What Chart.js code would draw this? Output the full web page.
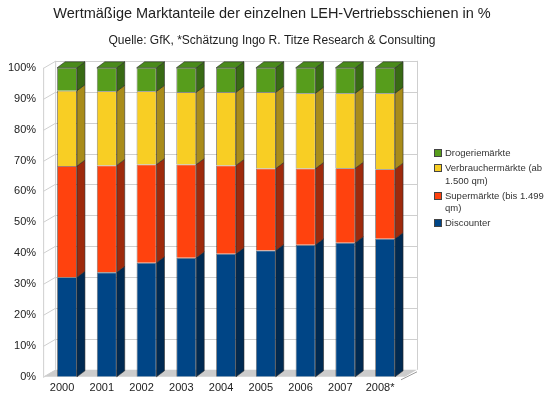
<!DOCTYPE html>
<html>
<head>
<meta charset="utf-8">
<script src="https://cdn.jsdelivr.net/npm/chart.js@4.4.0/dist/chart.umd.min.js"></script>
<style>
  body { margin: 0; background: #fff; }
  #wrap { position: relative; width: 547px; height: 400px; }
  #legend { position: absolute; left: 434px; top: 147px; font: 9.5px "Liberation Sans", Arial, sans-serif; color: #333; line-height: 12.5px; }
  #legend div { position: relative; padding-left: 11px; margin-bottom: 2.5px; white-space: nowrap; }
  #legend span { position: absolute; left: 0; top: 2px; width: 6px; height: 6px; border: 1px solid #444; }
</style>
</head>
<body>
<div id="wrap">
  <canvas id="chart" width="547" height="400"></canvas>
  <div id="legend"></div>
</div>
<script>
// data (percent shares, bottom to top)
const years = ["2000", "2001", "2002", "2003", "2004", "2005", "2006", "2007", "2008*"];
const discounter = [32.2, 33.8, 36.9, 38.5, 39.8, 40.9, 42.7, 43.4, 44.7];
const supermaerkte = [36.0, 34.6, 31.8, 30.2, 28.6, 26.5, 24.7, 24.1, 22.5];
const verbrauchermaerkte = [24.4, 24.0, 23.7, 23.4, 23.7, 24.7, 24.4, 24.3, 24.6];
const drogeriemaerkte = [7.4, 7.6, 7.6, 7.9, 7.9, 7.9, 8.2, 8.2, 8.2];
const seriesNames = [
  ["Discounter"],
  ["Supermärkte (bis 1.499", "qm)"],
  ["Verbrauchermärkte (ab", "1.500 qm)"],
  ["Drogeriemärkte"]
];
const yTickValues = [0, 10, 20, 30, 40, 50, 60, 70, 80, 90, 100];

// colours: front, side, top
const frontColors = ["#004586", "#ff420e", "#f8ce24", "#579d1c"];
const sideColors = ["#002a52", "#9e2a0c", "#a98c1a", "#386a14"];
const topColors = ["#003a70", "#d8380c", "#d8b420", "#4a8a1c"];

const seriesValues = [discounter, supermaerkte, verbrauchermaerkte, drogeriemaerkte];

// fake 3d: back wall, floor, side and top faces of the bars
const depth = {
  id: "depth",
  beforeDatasetsDraw(chart) {
    const { ctx, chartArea: a, scales: { y } } = chart;
    const x0 = a.left - 4, dx = 12, dy = 7;
    const base = y.getPixelForValue(0);
    const top = y.getPixelForValue(100);
    ctx.save();
    // floor
    ctx.fillStyle = "#cccccc";
    ctx.beginPath();
    ctx.moveTo(x0, base);
    ctx.lineTo(a.right, base);
    ctx.lineTo(a.right + dx, base - dy);
    ctx.lineTo(x0 + dx, base - dy);
    ctx.closePath();
    ctx.fill();
    // grid on the walls
    ctx.strokeStyle = "#cfcfcf";
    ctx.lineWidth = 1;
    yTickValues.forEach(v => {
      const py = Math.round(y.getPixelForValue(v)) + 0.5;
      ctx.beginPath();
      ctx.moveTo(x0, py);
      ctx.lineTo(x0 + dx, py - dy);
      if (v > 0) ctx.lineTo(a.right + dx, py - dy);
      ctx.stroke();
    });
    // wall edges
    ctx.beginPath();
    ctx.moveTo(x0 + 0.5, top);
    ctx.lineTo(x0 + 0.5, base);
    ctx.moveTo(x0 + dx + 0.5, top - dy);
    ctx.lineTo(x0 + dx + 0.5, base - dy);
    ctx.moveTo(a.right + dx + 0.5, top - dy);
    ctx.lineTo(a.right + dx + 0.5, base - dy);
    ctx.stroke();
    ctx.strokeStyle = "#9a9a9a";
    ctx.beginPath();
    ctx.moveTo(a.right - 4, base + 3);
    ctx.lineTo(a.right + dx, base - dy + 2);
    ctx.stroke();
    ctx.restore();
  },
  afterDatasetsDraw(chart) {
    const ctx = chart.ctx;
    const dx = 8, dy = 6;
    const last = chart.data.datasets.length - 1;
    ctx.save();
    ctx.lineWidth = 0.8;
    ctx.strokeStyle = "rgba(40,40,40,0.7)";
    chart.data.datasets.forEach((ds, di) => {
      const meta = chart.getDatasetMeta(di);
      meta.data.forEach(bar => {
        const { x, y, base, width } = bar.getProps(["x", "y", "base", "width"], true);
        const r = x + width / 2;
        const l = x - width / 2;
        ctx.fillStyle = sideColors[di];
        ctx.beginPath();
        ctx.moveTo(r, y);
        ctx.lineTo(r + dx, y - dy);
        ctx.lineTo(r + dx, base - dy);
        ctx.lineTo(r, base);
        ctx.closePath();
        ctx.fill();
        ctx.stroke();
        if (di === last) {
          ctx.fillStyle = topColors[di];
          ctx.beginPath();
          ctx.moveTo(l, y);
          ctx.lineTo(l + dx, y - dy);
          ctx.lineTo(r + dx, y - dy);
          ctx.lineTo(r, y);
          ctx.closePath();
          ctx.fill();
          ctx.stroke();
        }
      });
    });
    ctx.restore();
  }
};

const datasets = seriesValues.map((vals, i) => ({
  label: seriesNames[i],
  data: vals,
  backgroundColor: frontColors[i],
  borderColor: "rgba(40,40,40,0.7)",
  borderWidth: 0.8,
  barPercentage: 0.5,
  categoryPercentage: 1.0,
  yAxisID: "y"
}));

const ctx = document.getElementById("chart").getContext("2d");
new Chart(ctx, {
  type: "bar",
  data: { labels: years, datasets: datasets },
  options: {
    responsive: false,
    animation: false,
    devicePixelRatio: 1,
    layout: { padding: { left: -3, right: 0, top: 0, bottom: 0 } },
    plugins: {
      legend: { display: false },
      tooltip: { enabled: false },
      title: {
        display: true,
        text: "Wertmäßige Marktanteile der einzelnen LEH-Vertriebsschienen in %",
        color: "#222",
        font: { family: "Liberation Sans", size: 14.5, weight: "normal" },
        padding: { top: 5, bottom: 7 }
      },
      subtitle: {
        display: true,
        text: "Quelle: GfK, *Schätzung Ingo R. Titze Research & Consulting",
        color: "#222",
        font: { family: "Liberation Sans", size: 12 },
        padding: { top: 4, bottom: 20 }
      }
    },
    scales: {
      x: {
        stacked: true,
        grid: { display: false, drawTicks: false },
        border: { display: false },
        ticks: { color: "#222", font: { family: "Liberation Sans", size: 11 }, padding: 5, labelOffset: -5 }
      },
      y: {
        stacked: true,
        min: 0,
        max: 100,
        grid: { display: false, drawTicks: false },
        border: { display: false },
        afterBuildTicks: axis => { axis.ticks = yTickValues.map(v => ({ value: v })); },
        ticks: {
          color: "#222",
          font: { family: "Liberation Sans", size: 11 },
          padding: 11,
          callback: v => v + "%"
        }
      },
      // empty right axis keeps room for the legend without shifting the titles
      legendSpace: {
        position: "right",
        grid: { display: false, drawTicks: false },
        border: { display: false },
        ticks: { display: false },
        afterFit: scale => { scale.width = 142; }
      }
    }
  },
  plugins: [depth]
});

// legend, top series first
const legend = document.getElementById("legend");
for (let i = seriesNames.length - 1; i >= 0; i--) {
  legend.innerHTML += `<div><span style="background:${frontColors[i]}"></span>${seriesNames[i].join("<br>")}</div>`;
}
</script>
</body>
</html>
